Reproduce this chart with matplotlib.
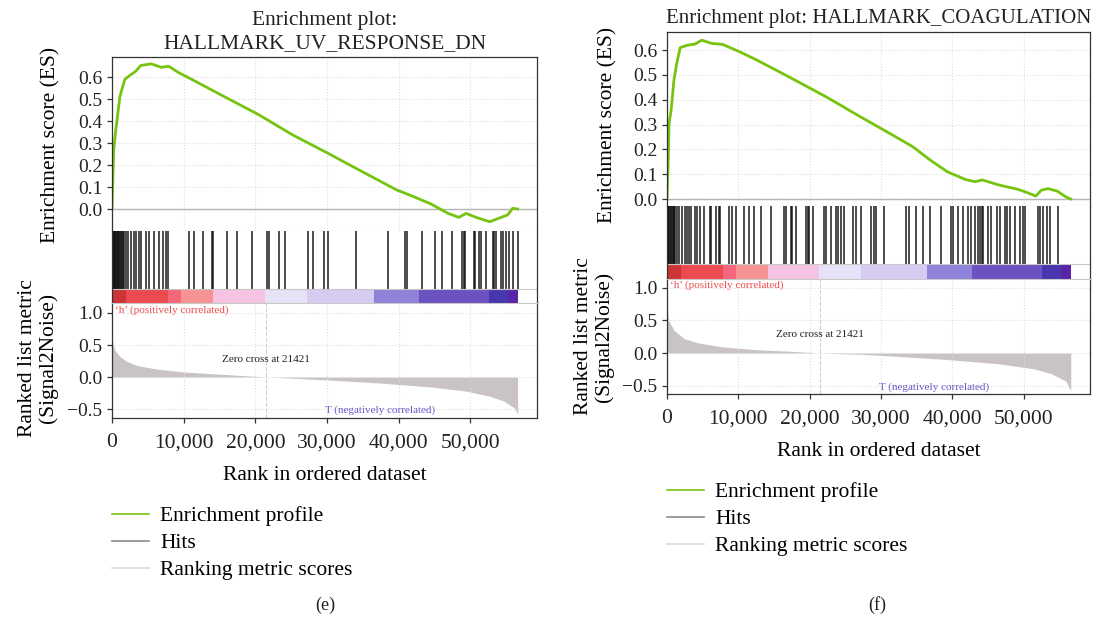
import matplotlib
matplotlib.use("Agg")
import matplotlib.pyplot as plt
from matplotlib.lines import Line2D
from matplotlib.ticker import FuncFormatter

plt.rcParams['font.family'] = ['Liberation Serif', 'DejaVu Serif']

# ---------------- data ----------------
N_GENES = 56600
ZERO_CROSS = 21421
X_MAX = 59300

uv_title = "Enrichment plot:\nHALLMARK_UV_RESPONSE_DN"
coag_title = "Enrichment plot: HALLMARK_COAGULATION"

uv_es_rank = [0, 240, 480, 870, 1100, 1350, 1800, 2600, 3300, 4000, 5450, 6900, 7900, 9300,
              11200, 15600, 20400, 25200, 30100, 34900, 39700, 42100, 44500, 46900, 48400,
              49400, 50800, 52700, 53900, 55200, 55900, 56600]
uv_es = [0.0, 0.27, 0.345, 0.45, 0.51, 0.54, 0.59, 0.61, 0.626, 0.652, 0.66, 0.644, 0.649, 0.62,
         0.588, 0.512, 0.43, 0.337, 0.254, 0.17, 0.087, 0.056, 0.023, -0.02, -0.038,
         -0.02, -0.038, -0.058, -0.043, -0.027, 0.003, 0.0]
uv_hits = [20, 100, 180, 270, 360, 450, 550, 660, 780, 900, 1020, 1150, 1300, 1450, 1600, 1700,
           1900, 2300, 2600, 3000, 3300, 3700, 4000, 4700, 5200, 5900, 6600, 7100, 7600, 7800,
           10800, 11500, 12700, 13900, 14100, 16000, 17400, 19500, 21600, 21900, 23300, 24200,
           27400, 28000, 29600, 30100, 34100, 38500, 40900, 41100, 43200, 45100, 46100, 47500,
           48900, 49100, 49300, 50500, 50700, 51200, 51500, 52200, 53100, 53300, 53600, 54300,
           54500, 55000, 55400, 55900, 56600]
uv_metric_rank = [0, 390, 1100, 2100, 3500, 5900, 9800, 15600, 20900, 22800, 30000, 37300,
                  44500, 49400, 52700, 54700, 56100, 56600]
uv_metric = [0.60, 0.42, 0.32, 0.24, 0.18, 0.13, 0.08, 0.04, 0.005, -0.005, -0.046, -0.093,
             -0.155, -0.22, -0.30, -0.376, -0.48, -0.58]

coag_es_rank = [0, 150, 290, 580, 970, 1360, 1850, 2900, 3900, 4860, 6300, 7800, 10200, 12600,
                17500, 22300, 27200, 32100, 34500, 36900, 39300, 41800, 43200, 44200, 46600,
                49100, 50500, 51700, 52500, 53400, 54700, 55900, 56600]
coag_es = [0.0, 0.13, 0.305, 0.358, 0.479, 0.546, 0.61, 0.62, 0.624, 0.64, 0.627, 0.623, 0.593,
           0.56, 0.486, 0.412, 0.33, 0.25, 0.21, 0.157, 0.11, 0.079, 0.07, 0.077, 0.056,
           0.04, 0.026, 0.012, 0.036, 0.042, 0.032, 0.009, 0.0]
coag_hits = [20, 100, 200, 300, 420, 550, 680, 800, 930, 1050, 1170, 1410, 1740, 2110, 2490,
             2810, 3140, 3420, 3890, 4220, 4690, 5160, 5960, 6100, 6800, 7270, 7500, 8680, 9050,
             9710, 10790, 11490, 12190, 13130, 14540, 16420, 16650, 17350, 17590, 18060, 19460,
             19700, 19930, 20400, 22040, 22280, 22980, 23680, 23920, 24390, 24760, 26120, 26500,
             27200, 28610, 29080, 29310, 30490, 33530, 33910, 34940, 35880, 36820, 38460, 39870,
             40100, 40800, 41510, 42210, 42680, 43150, 43620, 43850, 44090, 44320, 45020, 45490,
             46200, 46670, 47370, 47600, 48070, 48780, 49480, 49950, 50180, 52060, 52290, 52760,
             53230, 53700, 54870]
coag_metric_rank = [0, 240, 970, 2430, 4370, 7770, 12600, 17500, 21421, 27200, 32100, 39300,
                    46600, 51500, 53900, 55900, 56600]
coag_metric = [0.69, 0.50, 0.35, 0.22, 0.156, 0.094, 0.05, 0.026, 0.0, -0.02, -0.05, -0.10,
               -0.167, -0.245, -0.32, -0.43, -0.58]

bar_edges = [0, 1960, 7800, 9670, 14100, 21300, 27200, 36500, 42800, 52600, 55200, 56600]
bar_colors = ['#cc3535', '#ea4a50', '#f4677a', '#f69292', '#f6c3e3', '#e6e2f7', '#d7cbf1',
              '#8f82d8', '#6c52c0', '#4736ad', '#5a24a8']

x_ticks = [0, 10000, 20000, 30000, 40000, 50000]
x_tick_labels = ['0', '10,000', '20,000', '30,000', '40,000', '50,000']
es_ticks = [0.0, 0.1, 0.2, 0.3, 0.4, 0.5, 0.6]
metric_ticks = [-0.5, 0.0, 0.5, 1.0]
legend_labels = ['Enrichment profile', 'Hits', 'Ranking metric scores']

# ---------------- style ----------------
W, H = 1093, 620
GREEN = '#76c410'
FILL = '#c9c4c3'
SPINE = '#333333'
SEP = '#c8c8c8'
GRID = '#dedede'
TICK_FS = 14
LAB_FS = 15.5

one_dec = FuncFormatter(lambda v, p: ('%.1f' % v).replace('-', '\u2212'))

fig = plt.figure(figsize=(W / 100, H / 100), dpi=100)


def frac_box(x0, x1, ytop, ybot):
    return [x0 / W, 1 - ybot / H, (x1 - x0) / W, (ybot - ytop) / H]


def panel(x0, x1, es_top, hits_top, cbar_top, cbar_bot, rank_bot, es_lim, rank_lim,
          es_rank, es_vals, hits, m_rank, m_vals, title, title_y, title_fs,
          es_lab_x, es_lab_y, rk_lab_x, rk_lab_y):
    ax_es = fig.add_axes(frac_box(x0, x1, es_top, hits_top))
    ax_h = fig.add_axes(frac_box(x0, x1, hits_top, cbar_bot))
    ax_r = fig.add_axes(frac_box(x0, x1, cbar_bot, rank_bot))
    for ax in (ax_es, ax_h, ax_r):
        ax.set_xlim(0, X_MAX)
        for s in ax.spines.values():
            s.set_color(SPINE)
            s.set_linewidth(0.9)
        ax.tick_params(direction='out', length=3.5, width=0.9, colors=SPINE,
                       labelsize=TICK_FS, labelcolor='#222222')

    # ES
    ax_es.set_ylim(*es_lim)
    ax_es.set_yticks(es_ticks)
    ax_es.yaxis.set_major_formatter(one_dec)
    ax_es.set_xticks(x_ticks)
    ax_es.tick_params(axis='x', length=0, labelbottom=False)
    ax_es.grid(True, color=GRID, linestyle=':', linewidth=0.8)
    ax_es.axhline(0, color='#b5b5b5', linewidth=1.0)
    ax_es.plot(es_rank, es_vals, color=GREEN, linewidth=2.0, solid_joinstyle='round')
    ax_es.spines['bottom'].set_color(SEP)
    ax_es.spines['bottom'].set_linewidth(0.8)
    ax_es.set_ylabel('Enrichment score (ES)', fontsize=LAB_FS)
    ax_es.yaxis.set_label_coords((es_lab_x - x0) / (x1 - x0), es_lab_y)

    # hits + colour bar
    hh = cbar_bot - hits_top
    cb = (cbar_bot - cbar_top) / hh
    widths = [b - a for a, b in zip(bar_edges[:-1], bar_edges[1:])]
    ax_h.set_ylim(0, 1)
    ax_h.set_yticks([])
    ax_h.set_xticks([])
    ax_h.spines['top'].set_visible(False)
    ax_h.spines['bottom'].set_visible(False)
    ax_h.vlines(hits, cb, 1, color='#111111', linewidth=1.2, alpha=0.88)
    ax_h.bar(bar_edges[:-1], cb, width=widths, bottom=0, align='edge',
             color=bar_colors, linewidth=0)
    ax_h.axhline(cb, color=SEP, linewidth=0.8)

    # ranked metric
    ax_r.set_ylim(*rank_lim)
    ax_r.set_yticks(metric_ticks)
    ax_r.yaxis.set_major_formatter(one_dec)
    ax_r.set_xticks(x_ticks)
    ax_r.set_xticklabels(x_tick_labels)
    ax_r.tick_params(axis='x', labelsize=LAB_FS, pad=7.5)
    ax_r.grid(True, color=GRID, linestyle=':', linewidth=0.8)
    ax_r.spines['top'].set_color(SEP)
    ax_r.spines['top'].set_linewidth(0.8)
    ax_r.fill_between(m_rank, m_vals, 0, color=FILL, linewidth=0)
    ax_r.axvline(ZERO_CROSS, color='#cfcfcf', linestyle='--', linewidth=0.8)
    ax_r.text(420, 1.0 + 0.05, '\u2018h\u2019 (positively correlated)', color='#f04c4c',
              fontsize=8, ha='left', va='center')
    ax_r.text(ZERO_CROSS, 0.28, 'Zero cross at %d' % ZERO_CROSS, color='#222222',
              fontsize=8, ha='center', va='center')
    ax_r.text(37400, -0.52, 'T (negatively correlated)', color='#6a5acd',
              fontsize=8, ha='center', va='center')
    ax_r.set_xlabel('Rank in ordered dataset', fontsize=LAB_FS, labelpad=10)
    ax_r.set_ylabel('Ranked list metric\n(Signal2Noise)', fontsize=LAB_FS, linespacing=1.1)
    ax_r.yaxis.set_label_coords((rk_lab_x - x0) / (x1 - x0), rk_lab_y)

    cx = (x0 + x1) / 2
    fig.text(cx / W, 1 - title_y / H, title, ha='center', va='center', fontsize=title_fs,
             linespacing=1.25, color='#222222')
    return ax_es


panel(112, 537, 57, 231, 289, 303, 418, (-0.1, 0.691), (-0.64, 1.156),
      uv_es_rank, uv_es, uv_hits, uv_metric_rank, uv_metric, uv_title, 32, LAB_FS,
      60, 0.494, 58, 0.52)
panel(667, 1090, 32, 206, 264, 279, 394, (-0.028, 0.673), (-0.63, 1.138),
      coag_es_rank, coag_es, coag_hits, coag_metric_rank, coag_metric, coag_title, 18, 15,
      617, 0.466, 614, 0.5)

handles = [Line2D([], [], color=GREEN, linewidth=1.2),
           Line2D([], [], color='#8a8a8a', linewidth=1.2),
           Line2D([], [], color='#dcdcdc', linewidth=1.2)]
for lx, ly in ((112, 506), (667, 482)):
    fig.legend(handles, legend_labels, loc='upper left', bbox_to_anchor=(lx / W, 1 - ly / H),
               frameon=False, fontsize=LAB_FS, borderpad=0, borderaxespad=0,
               handlelength=1.7, handletextpad=0.55, labelspacing=0.33)

fig.text(325 / W, 1 - 605 / H, '(e)', ha='center', va='center', fontsize=13, color='#222222')
fig.text(877 / W, 1 - 605 / H, '(f)', ha='center', va='center', fontsize=13, color='#222222')

fig.savefig('out.png', dpi=100)
